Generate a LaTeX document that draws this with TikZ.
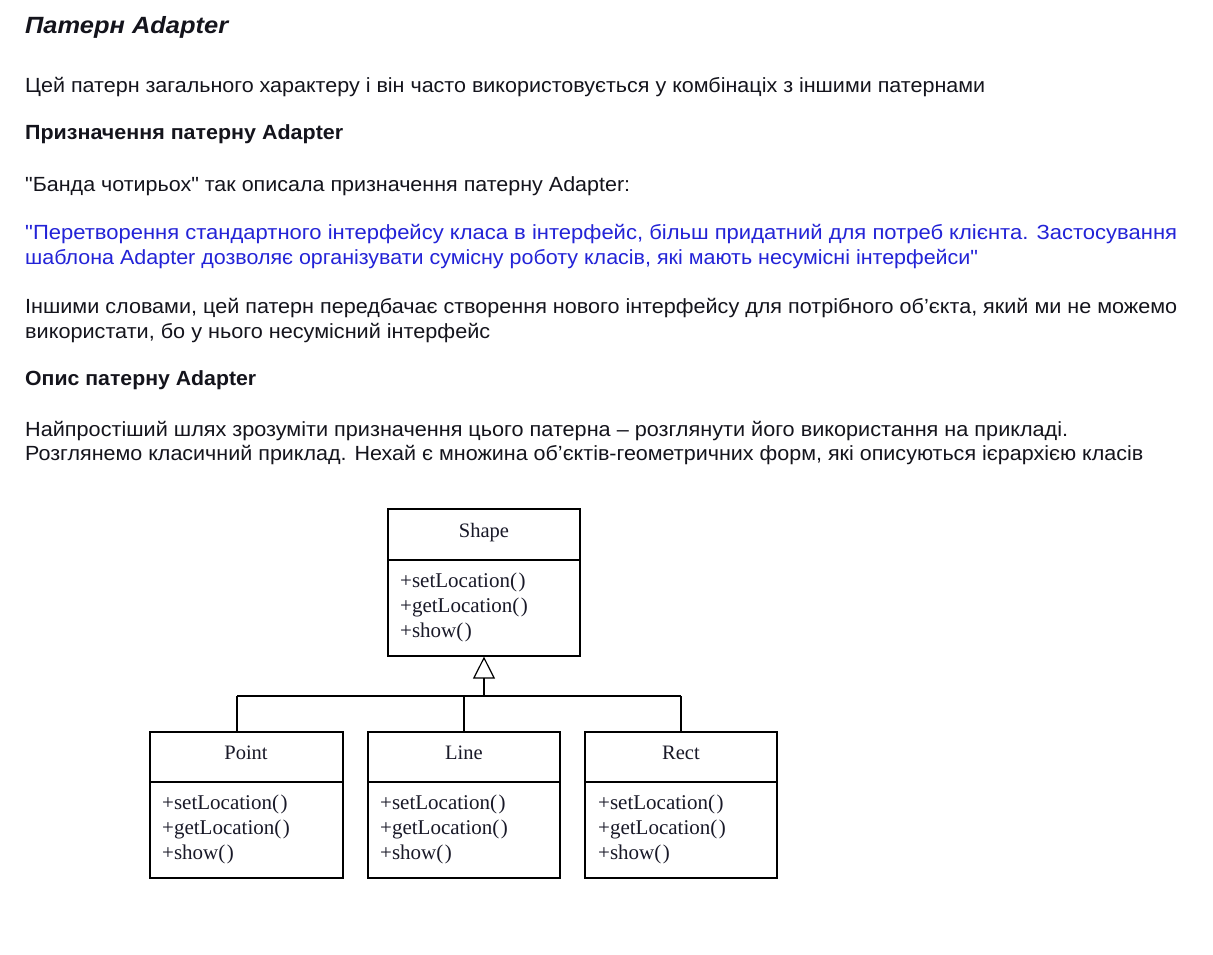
\documentclass[tikz,border=0pt]{standalone}
\usepackage{fontspec}
\setmainfont{Liberation Serif}
\newfontfamily\arialf{Liberation Sans}
\usetikzlibrary{arrows.meta}
\definecolor{txt}{RGB}{20,20,28}
\definecolor{quote}{RGB}{35,35,215}
\definecolor{umltxt}{RGB}{25,25,40}
\newsavebox\fitbox
\newcommand\fitto[2]{\sbox\fitbox{#2}\pgfmathsetmacro\fitsx{#1/\the\wd\fitbox}\scalebox{\fitsx}[1]{\usebox\fitbox}}
\newcommand\pp{(\kern1.5pt)}
\tikzset{
  para/.style={anchor=base west, inner sep=0pt, text=txt, font=\arialf\fontsize{20.5}{24}\selectfont},
  head/.style={para, font=\arialf\bfseries\fontsize{20.5}{24}\selectfont},
  ttl/.style={para, font=\arialf\bfseries\itshape\fontsize{23.5}{27}\selectfont},
  blu/.style={para, text=quote},
  cls/.style={draw=black, line width=1.2pt, inner sep=0pt},
  cname/.style={anchor=base, inner sep=0pt, text=umltxt, font=\fontsize{20.5}{24}\selectfont},
  cmeth/.style={anchor=base west, inner sep=0pt, text=umltxt, font=\fontsize{21}{24}\selectfont},
  conn/.style={draw=black, line width=1.2pt},
}
\begin{document}
\begin{tikzpicture}[x=1pt,y=-1pt]
\useasboundingbox (0,0) rectangle (1213,954);
\fill[white] (0,0) rectangle (1213,954);
% texts
\node[ttl] (t0) at (25,33) {\fitto{203}{Патерн Adapter}};
\node[para] (t1) at (25,92) {\fitto{960}{Цей патерн загального характеру і він часто використовується у комбінаціх з іншими патернами}};
\node[head] (t2) at (25,139) {\fitto{318}{Призначення патерну Adapter}};
\node[para] (t3) at (25,191) {\fitto{605}{"Банда чотирьох" так описала призначення патерну Adapter:}};
\node[blu] (t4) at (25,239) {\fitto{1152}{"Перетворення стандартного інтерфейсу класа в інтерфейс, більш придатний для потреб клієнта. Застосування}};
\node[blu] (t5) at (25,264) {\fitto{953}{шаблона Adapter дозволяє організувати сумісну роботу класів, які мають несумісні інтерфейси"}};
\node[para] (t6) at (25,313) {\fitto{1152}{Іншими словами, цей патерн передбачає створення нового інтерфейсу для потрібного об’єкта, який ми не можемо}};
\node[para] (t7) at (25,338) {\fitto{465}{використати, бо у нього несумісний інтерфейс}};
\node[head] (t8) at (25,385) {\fitto{231}{Опис патерну Adapter}};
\node[para] (t9) at (25,436) {\fitto{1043}{Найпростіший шлях зрозуміти призначення цього патерна – розглянути його використання на прикладі.}};
\node[para] (t10) at (25,460) {\fitto{1118}{Розглянемо класичний приклад. Нехай є множина об’єктів-геометричних форм, які описуються ієрархією класів}};
% class boxes
\node[cls, minimum width=192pt, minimum height=147pt] (shape) at (484,582.5) {};
\node[cls, minimum width=193pt, minimum height=146pt] (point) at (246.5,805) {};
\node[cls, minimum width=192pt, minimum height=146pt] (line) at (464,805) {};
\node[cls, minimum width=192pt, minimum height=146pt] (rect) at (681,805) {};
\draw[conn] (shape.west |- 0,560) -- (shape.east |- 0,560);
\draw[conn] (point.west |- 0,782) -- (point.east |- 0,782);
\draw[conn] (line.west |- 0,782) -- (line.east |- 0,782);
\draw[conn] (rect.west |- 0,782) -- (rect.east |- 0,782);
% class texts
\node[cname] (shapen) at (484,537) {Shape};
\node[cmeth] (shapem1) at (400,587) {+setLocation\pp};
\node[cmeth] (shapem2) at (400,612) {+getLocation\pp};
\node[cmeth] (shapem3) at (400,637) {+show\pp};
\node[cname] (pointn) at (246,759) {Point};
\node[cmeth] (pointm1) at (162,809) {+setLocation\pp};
\node[cmeth] (pointm2) at (162,834) {+getLocation\pp};
\node[cmeth] (pointm3) at (162,859) {+show\pp};
\node[cname] (linen) at (464,759) {Line};
\node[cmeth] (linem1) at (380,809) {+setLocation\pp};
\node[cmeth] (linem2) at (380,834) {+getLocation\pp};
\node[cmeth] (linem3) at (380,859) {+show\pp};
\node[cname] (rectn) at (681,759) {Rect};
\node[cmeth] (rectm1) at (598,809) {+setLocation\pp};
\node[cmeth] (rectm2) at (598,834) {+getLocation\pp};
\node[cmeth] (rectm3) at (598,859) {+show\pp};
% connectors
\coordinate (j) at (484,696);
\coordinate (busl) at (237,696);
\coordinate (busr) at (rect.north |- j);
\draw[conn, -{Triangle[open, length=22pt, width=22pt, line width=1.2pt]}] (j) -- (shape.south);
\draw[conn] (busl) -- (busr);
\draw[conn] (busl) -- (busl |- point.north);
\draw[conn] (line.north |- j) -- (line.north);
\draw[conn] (busr) -- (rect.north);
\end{tikzpicture}
\end{document}
